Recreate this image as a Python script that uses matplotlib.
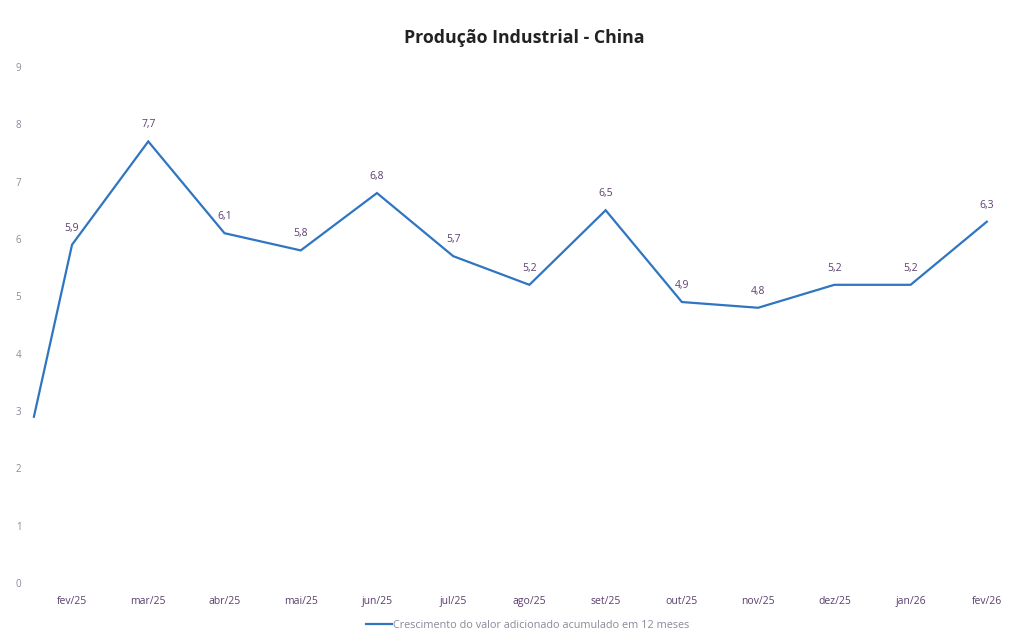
import numpy as np
import matplotlib.pyplot as plt

plt.rcParams['font.family'] = ['Open Sans', 'DejaVu Sans']

# dados: crescimento acumulado em 12 meses (%)
meses = ["fev/25", "mar/25", "abr/25", "mai/25", "jun/25", "jul/25", "ago/25",
         "set/25", "out/25", "nov/25", "dez/25", "jan/26", "fev/26"]
valores = [5.9, 7.7, 6.1, 5.8, 6.8, 5.7, 5.2, 6.5, 4.9, 4.8, 5.2, 5.2, 6.3]
valor_inicial = 2.9  # ponto anterior, cortado na borda esquerda

LINHA = "#2f75c0"
ROTULO = "#5b3f6e"
EIXO = "#8a8a9a"

fig = plt.figure(figsize=(10.28, 6.31), dpi=100)
ax = fig.add_axes([0.033, 0.076, 0.964, 0.818])

x = np.arange(len(meses))
ax.set_xlim(-0.5, len(meses) - 0.5)
ax.set_ylim(0, 9)

x0 = ax.get_xlim()[0]
ax.plot(np.r_[x0, x], np.r_[valor_inicial, valores], color=LINHA, lw=1.6,
        solid_joinstyle="miter", clip_on=False,
        label="Crescimento do valor adicionado acumulado em 12 meses")

for xi, v in zip(x, valores):
    ax.annotate(f"{v:.1f}".replace(".", ","), (xi, v), xytext=(0, 8),
                textcoords="offset points", ha="center", va="bottom",
                fontsize=7.5, color=ROTULO)

ax.set_xticks(x)
ax.set_xticklabels(meses)
ax.set_yticks(range(0, 10))
ax.tick_params(axis="x", length=0, pad=9, labelsize=7.5, labelcolor=ROTULO)
ax.tick_params(axis="y", length=0, pad=9, labelsize=7, labelcolor=EIXO)
for s in ax.spines.values():
    s.set_visible(False)

fig.text(0.51, 0.94, "Produção Industrial - China", ha="center", va="center",
         fontsize=12.8, fontweight="bold", color="#222222")

leg = fig.legend(loc="center", bbox_to_anchor=(0.513, 0.009), frameon=False,
                 fontsize=7.8, handlelength=2.4, handletextpad=0.1)
for t in leg.get_texts():
    t.set_color(EIXO)

fig.savefig("out.png", dpi=100)
